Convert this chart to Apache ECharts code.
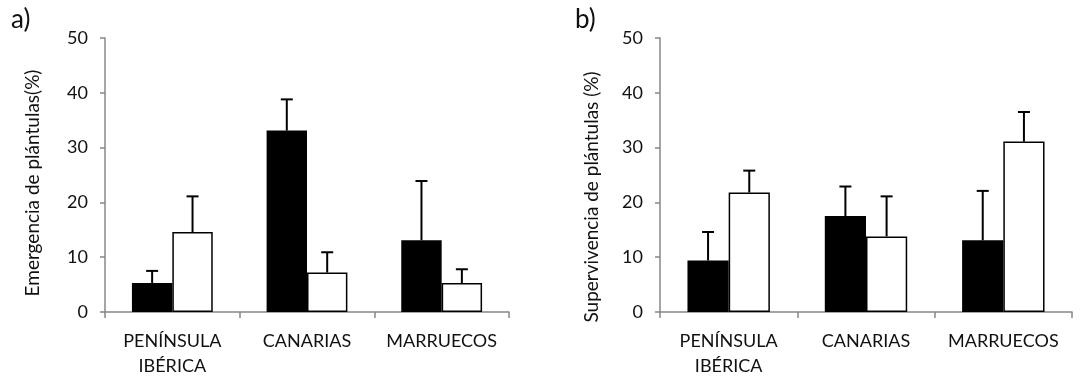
<!DOCTYPE html>
<html>
<head>
<meta charset="utf-8">
<script src="https://cdn.jsdelivr.net/npm/echarts@6/dist/echarts.min.js"></script>
<style>
  html, body { margin: 0; padding: 0; background: #fff; }
  #chart { width: 1080px; height: 379px; }
</style>
</head>
<body>
<div id="chart"></div>
<script>
var categories = ['PENÍNSULA\nIBÉRICA', 'CANARIAS', 'MARRUECOS'];
var yTicks = [0, 10, 20, 30, 40, 50];

// a) emergencia de plántulas
var emergBlack = [5.3, 33.1, 13.1];
var emergBlackErr = [2.2, 5.7, 10.8];
var emergWhite = [14.6, 7.2, 5.3];
var emergWhiteErr = [6.5, 3.7, 2.5];

// b) supervivencia de plántulas
var survBlack = [9.4, 17.5, 13.1];
var survBlackErr = [5.2, 5.4, 9.0];
var survWhite = [21.8, 13.8, 31.1];
var survWhiteErr = [4.0, 7.3, 5.4];

var FONT = 'Lato';
var AXIS_GREY = '#878787';

function errData(vals, errs) {
	return vals.map(function (v, i) { return [i, v, errs[i]]; });
}

// error bar: only the upper whisker, drawn from the bar top
function makeErr(shift) {
	return function (params, api) {
		var band = api.size([1, 0])[0];
		var dx = shift * band;
		var p0 = api.coord([api.value(0), api.value(1)]);
		var p1 = api.coord([api.value(0), api.value(1) + api.value(2)]);
		var x = p0[0] + dx;
		var st = { stroke: '#000', lineWidth: 2 };
		return {
			type: 'group',
			children: [
				{ type: 'line', shape: { x1: x, y1: p0[1], x2: x, y2: p1[1] }, style: st },
				{ type: 'line', shape: { x1: x - 6, y1: p1[1], x2: x + 6, y2: p1[1] }, style: st }
			]
		};
	};
}

function xAxisOpt(idx) {
	return {
		type: 'category',
		gridIndex: idx,
		data: categories,
		axisLine: { lineStyle: { color: AXIS_GREY, width: 1.5 } },
		axisTick: { show: true, inside: false, length: 6, lineStyle: { color: AXIS_GREY, width: 1.5 } },
		axisLabel: { color: '#111', fontFamily: FONT, fontSize: 18, margin: 17, lineHeight: 25, interval: 0 }
	};
}

// shiftDown pads the end of the rotated name so it sits lower, as in the original
function yAxisOpt(idx, name, gap, shiftDown) {
	return {
		type: 'value',
		gridIndex: idx,
		min: 0, max: 50, interval: 10,
		name: name,
		nameLocation: 'middle',
		nameGap: gap,
		nameTextStyle: { color: '#111', fontFamily: FONT, fontSize: 19, padding: [0, shiftDown * 2, 0, 0] },
		axisLine: { show: true, lineStyle: { color: AXIS_GREY, width: 1.5 } },
		axisTick: { show: true, length: 5, lineStyle: { color: AXIS_GREY, width: 1.5 } },
		splitLine: { show: false },
		axisLabel: {
			color: '#111', fontFamily: FONT, fontSize: 18, margin: 17,
			formatter: function (v) { return yTicks.indexOf(v) >= 0 ? String(v) : ''; }
		}
	};
}

function barSeries(idx, vals, fill) {
	return {
		type: 'bar',
		xAxisIndex: idx, yAxisIndex: idx,
		data: vals,
		barGap: '0%',
		barCategoryGap: '40%',
		itemStyle: { color: fill, borderColor: '#000', borderWidth: 1.5 },
		silent: true
	};
}

function errSeries(idx, vals, errs, shift) {
	return {
		type: 'custom',
		xAxisIndex: idx, yAxisIndex: idx,
		data: errData(vals, errs),
		renderItem: makeErr(shift),
		z: 3,
		silent: true
	};
}

var option = {
	backgroundColor: '#fff',
	animation: false,
	textStyle: { fontFamily: FONT },
	grid: [
		{ left: 105, right: 571, top: 38, bottom: 61 },
		{ left: 660, right: 8, top: 38, bottom: 61 }
	],
	xAxis: [xAxisOpt(0), xAxisOpt(1)],
	yAxis: [
		yAxisOpt(0, 'Emergencia de plántulas(%)', 63, 8),
		yAxisOpt(1, 'Supervivencia de plántulas (%)', 59, 22)
	],
	graphic: [
		{ type: 'text', left: 11, top: 7, style: { text: 'a)', fontFamily: FONT, fontSize: 26, fill: '#111' } },
		{ type: 'text', left: 575, top: 7, style: { text: 'b)', fontFamily: FONT, fontSize: 26, fill: '#111' } }
	],
	series: [
		barSeries(0, emergBlack, '#000'),
		barSeries(0, emergWhite, '#fff'),
		errSeries(0, emergBlack, emergBlackErr, -0.15),
		errSeries(0, emergWhite, emergWhiteErr, 0.15),
		barSeries(1, survBlack, '#000'),
		barSeries(1, survWhite, '#fff'),
		errSeries(1, survBlack, survBlackErr, -0.15),
		errSeries(1, survWhite, survWhiteErr, 0.15)
	]
};

echarts.init(document.getElementById('chart')).setOption(option);
</script>
</body>
</html>
